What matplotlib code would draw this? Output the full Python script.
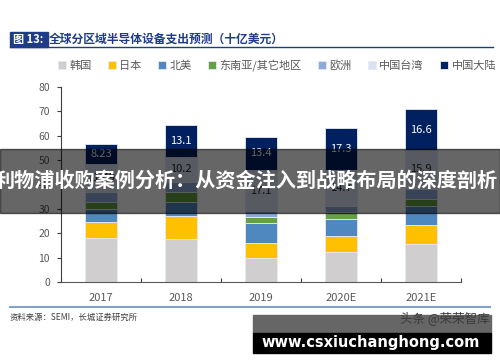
import numpy as np
import matplotlib
matplotlib.use("Agg")
import matplotlib.pyplot as plt
from matplotlib.patches import Rectangle

plt.rcParams['font.family'] = ['Noto Sans CJK SC', 'DejaVu Sans']

years = ["2017", "2018", "2019", "2020E", "2021E"]
regions = ["韩国", "日本", "北美", "东南亚/其它地区", "欧洲", "中国台湾", "中国大陆"]
korea = [17.9, 17.6, 9.9, 12.1, 15.5]
japan = [6.5, 9.5, 6.2, 6.8, 7.8]
north_america = [5.4, 5.6, 8.2, 7.1, 7.7]
sea_other = [3.0, 4.0, 2.3, 2.5, 2.8]
europe = [4.0, 4.3, 2.3, 2.7, 4.4]
taiwan = [11.49, 10.2, 17.1, 14.7, 15.9]
china = [8.23, 13.1, 13.4, 17.3, 16.6]
yticks = [0, 10, 20, 30, 40, 50, 60, 70, 80]

series = [korea, japan, north_america, sea_other, europe, taiwan, china]
colors = ["#D0CECE", "#FFC000", "#4F88BF", "#65A043", "#8EA9DB", "#D9E1F2", "#002060"]
grey = "#595959"

fig = plt.figure(figsize=(5, 3.62), dpi=100)
ax = fig.add_axes([0.122, 0.221, 0.80, 0.5395])

x = np.arange(len(years))
bottom = np.zeros(len(years))
bars = []
for name, vals, c in zip(regions, series, colors):
    b = ax.bar(x, vals, 0.4, bottom=bottom, color=c, label=name,
               edgecolor="#E4EAF4", linewidth=0.6, zorder=2)
    bars.append(b)
    bottom += np.array(vals)

# value labels for 中国台湾 and 中国大陆
ax.bar_label(bars[5], labels=[f"{v:g}" for v in taiwan], label_type="center",
             fontsize=8, color="#262626")
ax.bar_label(bars[6], labels=[f"{v:g}" for v in china], label_type="center",
             fontsize=8, color="white")

ax.set_xlim(-0.5, 4.5)
ax.set_ylim(0, 80)
ax.set_yticks(yticks)
ax.tick_params(axis="y", direction="out", length=3, width=0.8, color="#404040",
               labelsize=7.5, labelcolor=grey, pad=5)
ax.set_xticks(x)
ax.set_xticklabels(years)
ax.tick_params(axis="x", length=0, labelsize=8, labelcolor=grey, pad=8)
ax.set_xticks(np.arange(-0.5, 5, 1), minor=True)
ax.tick_params(axis="x", which="minor", direction="in", length=3, width=0.8, color="#404040")
for s in ["top", "right"]:
    ax.spines[s].set_visible(False)
ax.spines["left"].set_color("#404040")
ax.spines["bottom"].set_color("#595959")

fig.legend(loc="center", bbox_to_anchor=(0.554, 0.82), ncol=7, frameon=False,
           fontsize=8, labelcolor=grey, handlelength=0.7, handleheight=0.7,
           handletextpad=0.3, columnspacing=1.5, borderaxespad=0)

# title bar
fig.patches.append(Rectangle((0.019, 1 - 46.7 / 362), 0.077, 14.4 / 362,
                             transform=fig.transFigure, color="#1F3C88", zorder=3))
fig.text(0.057, 1 - 39.5 / 362, "图 13:", color="white", fontsize=8, fontweight="bold",
         ha="center", va="center")
fig.text(0.098, 1 - 39.5 / 362, "全球分区域半导体设备支出预测（十亿美元）", color="#1F3C88",
         fontsize=8.5, fontweight="bold", ha="left", va="center")
fig.lines.append(plt.Line2D([0.019, 0.986], [1 - 47 / 362] * 2, transform=fig.transFigure,
                            color="#1F3C88", linewidth=1))

# footer
fig.lines.append(plt.Line2D([0.019, 0.98], [1 - 307 / 362] * 2, transform=fig.transFigure,
                            color="#7FA3CC", linewidth=1.5))
fig.text(0.02, 1 - 317 / 362, "资料来源：SEMI，长城证券研究所", fontsize=6, style="italic",
         color="#404040", ha="left", va="center")

# overlays
fig.patches.append(Rectangle((0, 1 - 213 / 362), 1, 64 / 362, transform=fig.transFigure,
                             color="black", alpha=0.6, zorder=10))
fig.text(0.492, 1 - 180 / 362, "利物浦收购案例分析：从资金注入到战略布局的深度剖析",
         color="white", fontsize=14.5, fontweight="bold", ha="center", va="center", zorder=11)
fig.patches.append(Rectangle((0.506, 1 - 333 / 362), 0.476, 18 / 362, transform=fig.transFigure,
                             color="#666666", zorder=10))
fig.patches.append(Rectangle((0.506, 1 - 352.5 / 362), 0.476, 19.5 / 362, transform=fig.transFigure,
                             color="black", zorder=10))
fig.text(0.89, 1 - 318 / 362, "头条 @荣荣智库", color="#3A3A3A", fontsize=9,
         ha="center", va="center", zorder=11)
fig.text(0.741, 1 - 342.5 / 362, "www.csxiuchanghong.com", color="white", fontsize=10.5,
         fontweight="bold", family=["DejaVu Sans"], ha="center", va="center", zorder=11)

fig.savefig("out.png", dpi=100)
